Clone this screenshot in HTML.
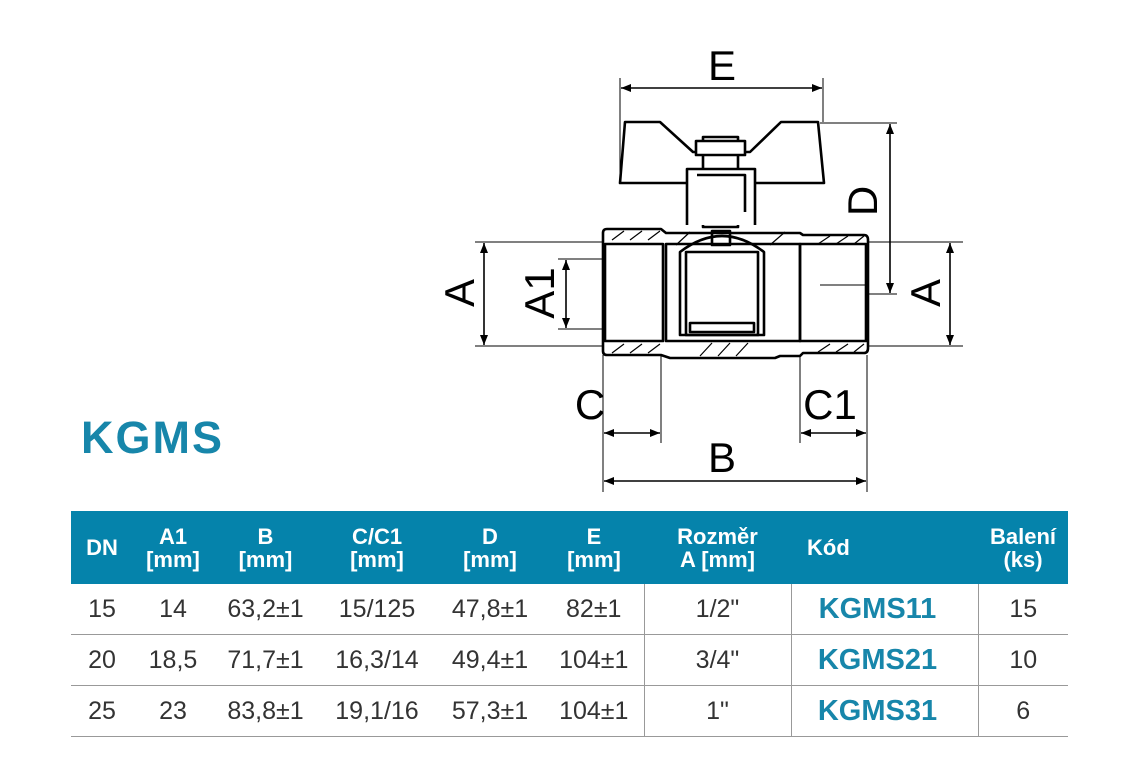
<!DOCTYPE html>
<html><head><meta charset="utf-8"><style>
body{margin:0;width:1131px;height:771px;background:#fff;overflow:hidden;position:relative;font-family:"Liberation Sans",sans-serif}
.t{position:absolute}
table{position:absolute;left:71px;top:511px;border-collapse:collapse;width:997px}
th{background:#0583ab;color:#fff;font-weight:bold;font-size:22px;line-height:23px;height:73px;padding:0;text-align:center}
td{font-size:25px;color:#333;height:50px;border-bottom:1.5px solid #999;text-align:center;padding:0}
td.k{color:#1786aa;font-weight:bold;font-size:29px;border-left:1.5px solid #999;border-right:1.5px solid #999;padding-right:14px}
td.r{border-left:1.5px solid #999}
</style></head><body>
<div class="t" style="left:81px;top:412px;font-size:45px;font-weight:bold;color:#1786aa;letter-spacing:2px">KGMS</div>
<svg width="1131" height="500" style="position:absolute;left:0;top:0" font-family="Liberation Sans" font-size="42" fill="none" stroke="#000">
<defs><marker id="a" viewBox="0 0 10 10" refX="10" refY="5" markerWidth="12" markerHeight="10" orient="auto-start-reverse" markerUnits="userSpaceOnUse"><path d="M0,1L10,5L0,9z" fill="#000" stroke="none"/></marker></defs>
<g stroke-width="1">
<line x1="620" y1="78" x2="620" y2="180"/><line x1="823" y1="78" x2="823" y2="122"/>
<line x1="820" y1="123" x2="897" y2="123"/><line x1="815" y1="294" x2="897" y2="294"/>
<line x1="475" y1="242" x2="603" y2="242"/><line x1="475" y1="346" x2="603" y2="346"/>
<line x1="558" y1="259" x2="665" y2="259"/><line x1="558" y1="329" x2="665" y2="329"/>
<line x1="868" y1="242" x2="963" y2="242"/><line x1="868" y1="346" x2="963" y2="346"/>
<line x1="603" y1="355" x2="603" y2="492"/><line x1="661" y1="355" x2="661" y2="443"/>
<line x1="800" y1="355" x2="800" y2="443"/><line x1="867" y1="355" x2="867" y2="492"/>
</g>
<g stroke-width="1.6">
<line x1="621" y1="88" x2="822" y2="88" marker-start="url(#a)" marker-end="url(#a)"/>
<line x1="890" y1="124" x2="890" y2="293" marker-start="url(#a)" marker-end="url(#a)"/>
<line x1="484" y1="243" x2="484" y2="345" marker-start="url(#a)" marker-end="url(#a)"/>
<line x1="566" y1="260" x2="566" y2="328" marker-start="url(#a)" marker-end="url(#a)"/>
<line x1="950" y1="243" x2="950" y2="345" marker-start="url(#a)" marker-end="url(#a)"/>
<line x1="604" y1="433" x2="660" y2="433" marker-start="url(#a)" marker-end="url(#a)"/>
<line x1="801" y1="433" x2="866" y2="433" marker-start="url(#a)" marker-end="url(#a)"/>
<line x1="604" y1="481" x2="866" y2="481" marker-start="url(#a)" marker-end="url(#a)"/>
</g>
<g fill="#000" stroke="none" text-anchor="middle">
<text x="722" y="80">E</text><text x="590" y="419">C</text><text x="830" y="419">C1</text><text x="722" y="472">B</text>
<text transform="translate(474,293) rotate(-90)">A</text>
<text transform="translate(554,293) rotate(-90)">A1</text>
<text transform="translate(940,293) rotate(-90)">A</text>
<text transform="translate(877,201) rotate(-90)">D</text>
</g>
<g stroke-width="2.6" stroke-linejoin="round">
<path d="M620,183L625,122H660L693,152H750L781,122H818L824,183Z" fill="#fff"/>
<rect x="703" y="137" width="35" height="90" fill="#fff"/>
<rect x="696" y="141" width="49" height="14" fill="#fff"/>
<path d="M687,225V169H755V225" fill="#fff"/>
<path d="M697,175H745V212" />
<path d="M607,229H661L666,233H800L803,235H864Q868,235 868,240V348Q868,353 864,353H803L800,356H780L775,358H670L661,355H607Q603,355 603,351V233Q603,229 607,229Z" fill="#fff"/>
<rect x="605" y="244" width="58" height="97"/>
<rect x="800" y="244" width="66" height="97"/>
<path d="M666,244H800V341H666Z"/>
<path d="M680,252Q722,220 764,252V335H680Z"/>
<rect x="686" y="252" width="72" height="83"/>
<rect x="712" y="231" width="18" height="14"/>
<rect x="690" y="323" width="64" height="9"/>
</g>
<g stroke-width="1.2">
<path d="M612,240L624,231M630,240L642,231M648,240L660,231M612,353L624,344M630,353L642,344M648,353L660,344M818,244L830,236M836,244L848,236M854,244L864,236M818,352L830,344M836,352L848,344M854,352L864,344M700,356L712,343M718,356L730,343M736,356L748,343M770,245L785,232M676,245L690,232"/>
</g>
<line x1="820" y1="285" x2="868" y2="285" stroke-width="1"/>
</svg>
<table>
<tr><th style="width:62px">DN</th><th style="width:80px">A1<br>[mm]</th><th style="width:105px">B<br>[mm]</th><th style="width:118px">C/C1<br>[mm]</th><th style="width:108px">D<br>[mm]</th><th style="width:100px">E<br>[mm]</th><th style="width:147px">Rozměr<br>A [mm]</th><th style="width:187px;text-align:left;padding-left:16px;box-sizing:border-box">Kód</th><th>Balení<br>(ks)</th></tr>
<tr><td>15</td><td>14</td><td>63,2±1</td><td>15/125</td><td>47,8±1</td><td>82±1</td><td class="r">1/2"</td><td class="k">KGMS11</td><td>15</td></tr>
<tr><td>20</td><td>18,5</td><td>71,7±1</td><td>16,3/14</td><td>49,4±1</td><td>104±1</td><td class="r">3/4"</td><td class="k">KGMS21</td><td>10</td></tr>
<tr><td>25</td><td>23</td><td>83,8±1</td><td>19,1/16</td><td>57,3±1</td><td>104±1</td><td class="r">1"</td><td class="k">KGMS31</td><td>6</td></tr>
</table>
</body></html>
